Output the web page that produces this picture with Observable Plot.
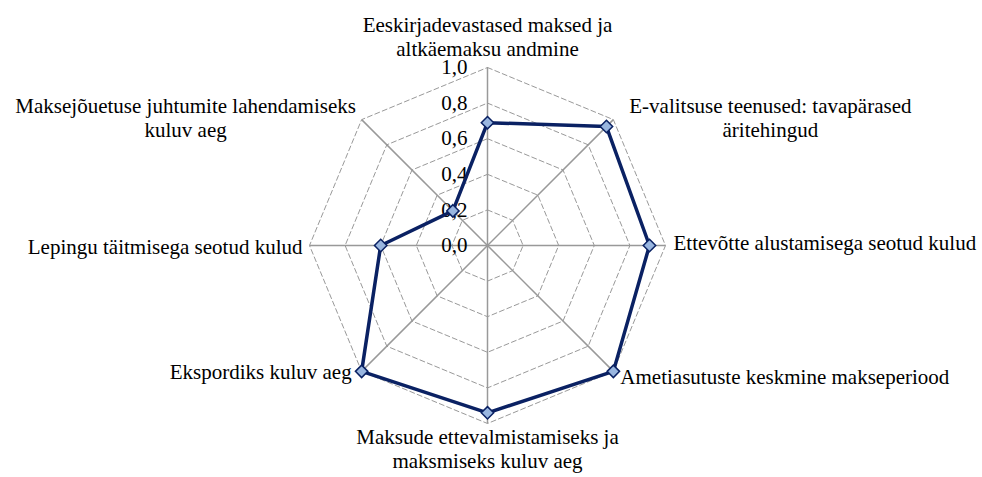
<!DOCTYPE html>
<html>
<head>
<meta charset="utf-8">
<script src="https://cdn.jsdelivr.net/npm/d3@7"></script>
<script src="https://cdn.jsdelivr.net/npm/@observablehq/plot@0.6"></script>
<style>
  html, body { margin: 0; padding: 0; background: #fff; }
  #chart svg { display: block; }
  #chart svg text { font-family: "Liberation Serif", "Times New Roman", serif !important; }
</style>
</head>
<body>
<div id="chart"></div>
<script>
// ---- data ----
const categories = [
  "Eeskirjadevastased maksed ja\naltkäemaksu andmine",
  "E-valitsuse teenused: tavapärased\näritehingud",
  "Ettevõtte alustamisega seotud kulud",
  "Ametiasutuste keskmine makseperiood",
  "Maksude ettevalmistamiseks ja\nmaksmiseks kuluv aeg",
  "Ekspordiks kuluv aeg",
  "Lepingu täitmisega seotud kulud",
  "Maksejõuetuse juhtumite lahendamiseks\nkuluv aeg"
];
const values = [0.69, 0.945, 0.91, 1.0, 0.94, 1.0, 0.60, 0.275];
const tickLevels = [0, 0.2, 0.4, 0.6, 0.8, 1.0];
const tickLabels = ["0,0", "0,2", "0,4", "0,6", "0,8", "1,0"];

// ---- layout (label placement relative to axis end, pixels) ----
const labelLayout = [
  {anchor: "middle", dx: 0,    dy: -31.6},
  {anchor: "middle", dx: 157,  dy: -2},
  {anchor: "start",  dx: 8,    dy: -3.4},
  {anchor: "start",  dx: 7,    dy: 5.3},
  {anchor: "middle", dx: 0,    dy: 24.7},
  {anchor: "end",    dx: -10,  dy: 0},
  {anchor: "end",    dx: -7,   dy: 0.5},
  {anchor: "middle", dx: -176, dy: -2}
];
const FS = 21;

const n = categories.length;
const ang = i => Math.PI / 2 - i * 2 * Math.PI / n;
const polar = (r, i) => ({x: r * Math.cos(ang(i)), y: r * Math.sin(ang(i))});

const rings = [];
tickLevels.filter(l => l > 0).forEach(l => {
  for (let i = 0; i <= n; i++) rings.push({level: l, ...polar(l, i % n)});
});
const spokes = categories.map((c, i) => ({...polar(1, i)}));
const series = values.map((v, i) => ({value: v, ...polar(v, i)}));
const seriesClosed = [...series, series[0]];
const ticks = tickLevels.map((l, k) => ({x: 0, y: l, label: tickLabels[k]}));

const font = "Liberation Serif";
const labelMarks = categories.map((c, i) => Plot.text([{...polar(1, i), label: c}], {
  x: "x", y: "y", text: "label",
  textAnchor: labelLayout[i].anchor,
  lineAnchor: "middle",
  lineHeight: 1.15,
  dx: labelLayout[i].dx, dy: labelLayout[i].dy,
  fontSize: FS, fontFamily: font, fill: "#000"
}));

const chart = Plot.plot({
  width: 982,
  height: 477,
  margin: 0,
  style: {fontFamily: "Liberation Serif", fontSize: FS + "px"},
  x: {domain: [-1, 1], range: [309, 665], axis: null},
  y: {domain: [-1, 1], range: [423, 67], axis: null},
  marks: [
    Plot.line(rings, {x: "x", y: "y", z: "level", stroke: "#999999", strokeWidth: 1, strokeDasharray: "5,3"}),
    Plot.link(spokes, {x1: 0, y1: 0, x2: "x", y2: "y", stroke: "#999999", strokeWidth: 1.5}),
    Plot.text(ticks, {x: "x", y: "y", text: "label", textAnchor: "end", dx: -20, fontSize: FS, fontFamily: font, fill: "#000"}),
    Plot.line(seriesClosed, {x: "x", y: "y", stroke: "#0a2163", strokeWidth: 3.5, strokeLinejoin: "miter"}),
    Plot.dot(series, {x: "x", y: "y", symbol: "diamond2", r: 5.6, fill: "#99b6e0", stroke: "#0a2163", strokeWidth: 1.5}),
    ...labelMarks
  ]
});
document.getElementById("chart").appendChild(chart);
</script>
</body>
</html>
